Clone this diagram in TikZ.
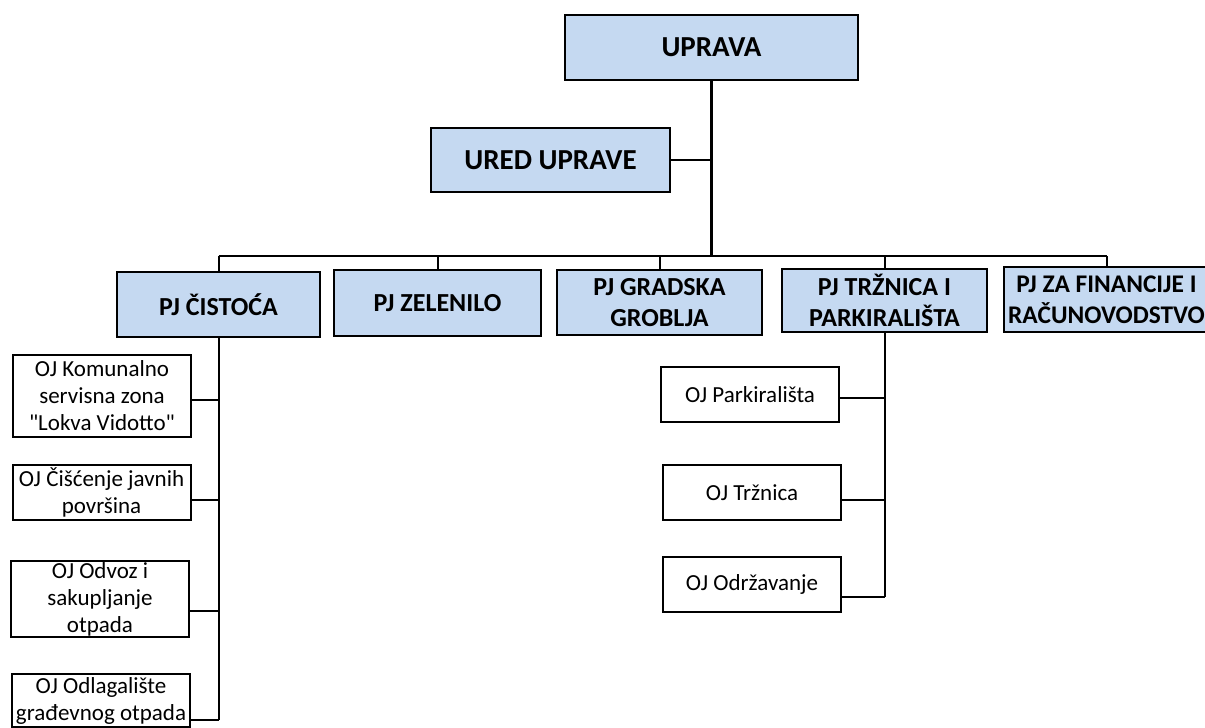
\documentclass[tikz,border=0pt]{standalone}
\usepackage{fontspec}
\setmainfont{Carlito}[Ligatures=TeXOff]
\definecolor{pjblue}{RGB}{197,217,241}

\begin{document}
\begin{tikzpicture}[x=0.5pt,y=-0.5pt,
    pjbox/.style={draw,line width=1pt,fill=pjblue,align=center,inner sep=0pt,
        minimum width=102.5pt,minimum height=32.5pt,
        font=\bfseries\fontsize{13}{15.5}\selectfont},
    topbox/.style={pjbox,font=\bfseries\fontsize{14.5}{17}\selectfont},
    ojbox/.style={draw,line width=1pt,align=center,inner sep=0pt,
        minimum width=89pt,font=\fontsize{11.5}{13.5}\selectfont},
    link/.style={line width=1pt},
    mainlink/.style={line width=1.4pt}]
    \useasboundingbox (0,0) rectangle (1205,728);

    % uprava
    \node[topbox,minimum width=146.5pt] (uprava) at (711.5,47.5) {UPRAVA};
    \node[topbox,minimum width=119.5pt,minimum height=32pt] (ured) at (550.5,160) {URED UPRAVE};

    % poslovne jedinice
    \node[pjbox,minimum width=101.5pt] (cistoca) at (218.5,304.5) {PJ ČISTOĆA};
    \node[pjbox,minimum width=103.5pt,minimum height=33pt] (zelenilo) at (437.5,303) {PJ ZELENILO};
    \node[pjbox] (groblja) at (659.5,302.5) {PJ GRADSKA\\GROBLJA};
    \node[pjbox,minimum height=31.5pt] (trznica) at (884.5,300.5) {PJ TRŽNICA I\\PARKIRALIŠTA};
    \node[pjbox,font=\bfseries\fontsize{12.7}{15.5}\selectfont] (financije) at (1106.5,299.5) {PJ ZA FINANCIJE I\\RAČUNOVODSTVO};

    % organizacijske jedinice
    \node[ojbox,minimum height=41pt] (komunalno) at (102,396) {OJ Komunalno\\servisna zona\\"Lokva Vidotto"};
    \node[ojbox,minimum height=27.5pt] (ciscenje) at (101.5,492.5) {OJ Čišćenje javnih\\površina};
    \node[ojbox,minimum height=38pt] (odvoz) at (100,599) {OJ Odvoz i\\sakupljanje\\otpada};
    \node[ojbox,minimum height=26.5pt] (odlagaliste) at (101,700.5) {OJ Odlagalište\\građevnog otpada};

    \node[ojbox,minimum height=27.5pt] (parkiralista) at (750,394.5) {OJ Parkirališta};
    \node[ojbox,minimum height=27.5pt] (trznicaoj) at (752,492.5) {OJ Tržnica};
    \node[ojbox,minimum height=27.5pt] (odrzavanje) at (752,584.5) {OJ Održavanje};

    % veze
    \coordinate (bus) at (712,256);
    \draw[mainlink] (uprava.south) -- (uprava.south |- bus);
    \draw[link] (ured.east) -- (ured.east -| uprava.south);
    \draw[mainlink] (cistoca.north |- bus) -- (financije.north |- bus);
    \foreach \n in {cistoca,zelenilo,groblja,trznica,financije}
        \draw[link] (\n.north) -- (\n.north |- bus);

    \draw[link] (cistoca.south) -- ([yshift=-9.5pt]odlagaliste.east -| cistoca.south);
    \foreach \n/\s in {komunalno/-2,ciscenje/-3.5,odvoz/-6,odlagaliste/-9.5}
        \draw[link] ([yshift=\s pt]\n.east) -- ([yshift=\s pt]\n.east -| cistoca.south);

    \draw[link] (trznica.south) -- ([yshift=-6pt]odrzavanje.east -| trznica.south);
    \foreach \n/\s in {parkiralista/-1.5,trznicaoj/-3.5,odrzavanje/-6}
        \draw[link] ([yshift=\s pt]\n.east) -- ([yshift=\s pt]\n.east -| trznica.south);
\end{tikzpicture}
\end{document}
